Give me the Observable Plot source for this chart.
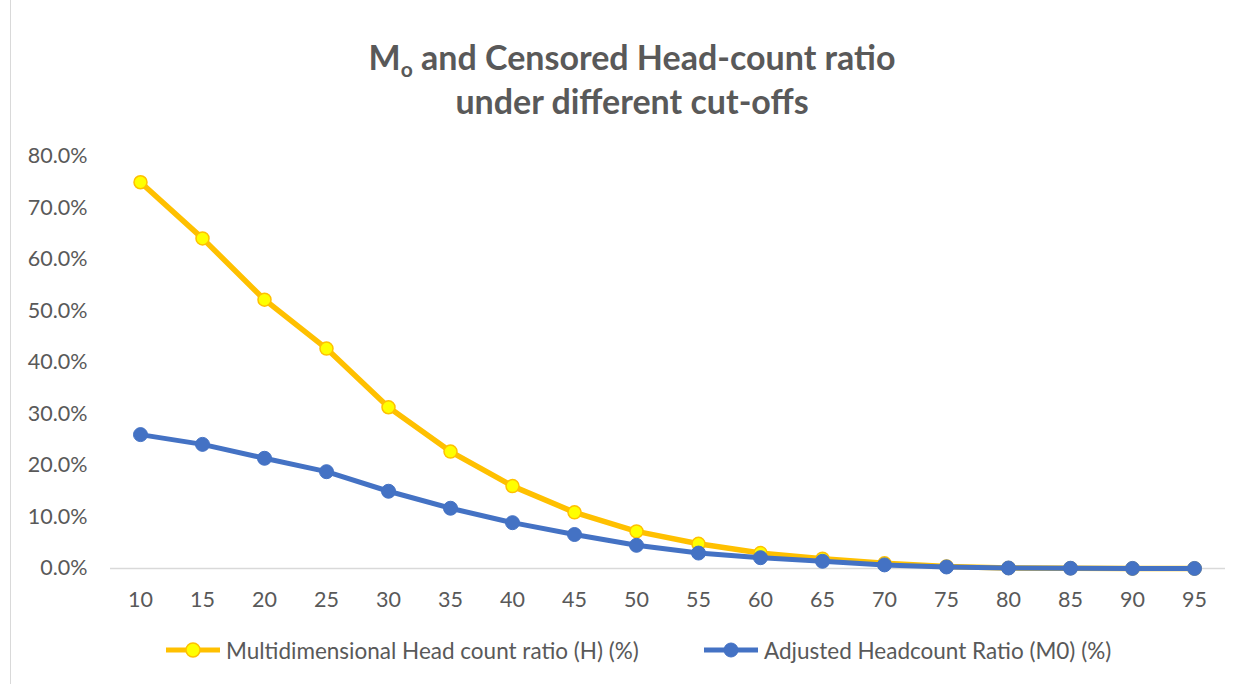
<!DOCTYPE html>
<html><head><meta charset="utf-8">
<script src="https://cdn.jsdelivr.net/npm/d3@7"></script>
<script src="https://cdn.jsdelivr.net/npm/@observablehq/plot@0.6"></script>
<style>
body{margin:0;background:#fff;width:1241px;height:684px;position:relative;overflow:hidden;font-family:Lato,"Open Sans",sans-serif;}
#frame{position:absolute;left:10px;top:-1px;width:1240px;height:690px;border-left:1px solid #d9d9d9;}
#title{position:absolute;left:0;width:1264px;top:35px;text-align:center;font-weight:bold;font-size:34px;line-height:44px;color:#595959;}
#title sub{font-size:21px;vertical-align:-7px;line-height:0;}
#chart{position:absolute;left:0;top:130px;}
.leg{position:absolute;top:637px;height:26px;display:flex;align-items:center;font-size:22.5px;color:#595959;white-space:nowrap;}
.leg svg{margin-right:4px;}
</style>
</head><body>
<div id="frame"></div>
<div id="title">M<sub>o</sub> and Censored Head-count ratio<br>under different cut-offs</div>
<div id="chart"></div>
<div class="leg" id="leg1" style="left:166px"></div>
<div class="leg" id="leg2" style="left:704px"></div>
<script>
const cutoffs = [10,15,20,25,30,35,40,45,50,55,60,65,70,75,80,85,90,95];
const headcountH = [75.0,64.1,52.2,42.7,31.3,22.7,16.0,10.9,7.2,4.8,3.0,1.9,1.0,0.4,0.1,0.05,0.0,0.0];
const adjustedM0 = [26.0,24.1,21.4,18.8,15.0,11.7,8.9,6.6,4.5,3.0,2.1,1.4,0.7,0.3,0.1,0.05,0.02,0.01];
const yTicks = [0,0.1,0.2,0.3,0.4,0.5,0.6,0.7,0.8];
const seriesNames = ["Multidimensional Head count ratio (H) (%)","Adjusted Headcount Ratio (M0) (%)"];
const yellowLine = "#FFC000", yellowFill = "#FFFF00", blue = "#4472C4";

const hData = cutoffs.map((c,i)=>({cutoff:c, value:headcountH[i]/100}));
const mData = cutoffs.map((c,i)=>({cutoff:c, value:adjustedM0[i]/100}));

const chart = Plot.plot({
  width:1241, height:490,
  marginTop:26, marginBottom:52, marginLeft:110, marginRight:16,
  style:{fontSize:"21.5px", color:"#595959", fontFamily:"Lato, 'Open Sans', sans-serif", background:"transparent"},
  x:{type:"point", domain:cutoffs, range:[140,1194], padding:0, label:null, tickSize:0, tickPadding:23},
  y:{domain:[0,0.8], ticks:yTicks, tickFormat:d3.format(".1%"), tickSize:0, tickPadding:23, label:null},
  marks:[
    Plot.ruleY([0], {stroke:"#d9d9d9", strokeWidth:1.5}),
    Plot.lineY(hData, {x:"cutoff", y:"value", stroke:yellowLine, strokeWidth:5.5}),
    Plot.dot(hData, {x:"cutoff", y:"value", r:6.5, fill:yellowFill, stroke:yellowLine, strokeWidth:1.5}),
    Plot.lineY(mData, {x:"cutoff", y:"value", stroke:blue, strokeWidth:5}),
    Plot.dot(mData, {x:"cutoff", y:"value", r:7, fill:blue, stroke:blue, strokeWidth:1})
  ]
});
document.getElementById("chart").append(chart);

function sym(stroke, fill, sw){
  return `<svg width="56" height="20"><line x1="0" x2="54" y1="10" y2="10" stroke="${stroke}" stroke-width="5"/><circle cx="27" cy="10" r="7" fill="${fill}" stroke="${stroke}" stroke-width="${sw}"/></svg>`;
}
document.getElementById("leg1").innerHTML = sym(yellowLine, yellowFill, 1.5) + `<span>${seriesNames[0]}</span>`;
document.getElementById("leg2").innerHTML = sym(blue, blue, 1) + `<span>${seriesNames[1]}</span>`;
</script>
</body></html>
